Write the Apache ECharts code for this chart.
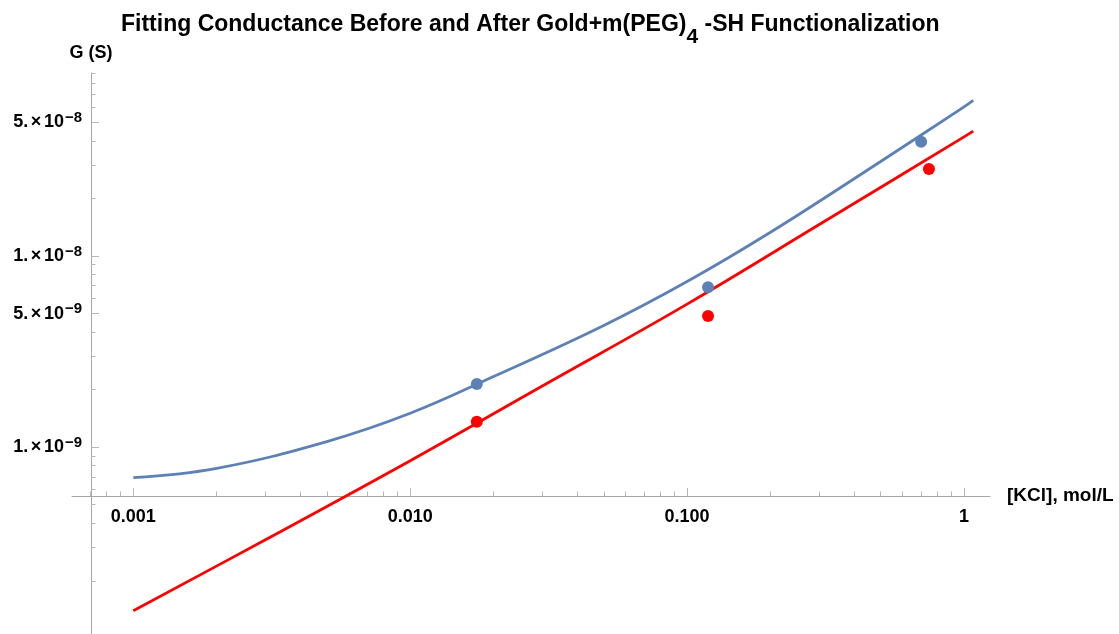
<!DOCTYPE html>
<html>
<head>
<meta charset="utf-8">
<script src="https://cdn.jsdelivr.net/npm/echarts@6/dist/echarts.min.js"></script>
<style>
  html, body { margin: 0; padding: 0; background: #ffffff; }
  #chart { width: 1119px; height: 634px; }
</style>
</head>
<body>
<div id="chart"></div>
<script>
// Measured conductance, before functionalization
const measuredKClBefore = [0.0174, 0.119, 0.70];
const measuredGBefore   = [2.14e-9, 6.86e-9, 3.96e-8];

// Measured conductance, after Gold+m(PEG)4-SH functionalization
const measuredKClAfter = [0.0174, 0.119, 0.747];
const measuredGAfter   = [1.36e-9, 4.86e-9, 2.85e-8];

// Fitted curve, before functionalization
const fitKClBefore = [0.001, 0.002, 0.005, 0.01, 0.02, 0.05, 0.1, 0.2, 0.5, 1, 1.08];
const fitGBefore   = [6.93e-10, 7.75e-10, 1.07e-9, 1.504e-9, 2.34e-9, 4.33e-9, 7.35e-9, 1.33e-8, 3.12e-8, 6.03e-8, 6.52e-8];

// Fitted curve, after functionalization
const fitKClAfter = [0.001, 0.003, 0.01, 0.03, 0.1, 0.3, 1, 1.08];
const fitGAfter   = [1.396e-10, 3.28e-10, 8.5e-10, 2.09e-9, 5.6e-9, 1.46e-8, 4.2e-8, 4.5e-8];

// Axis ticks
const xMajorTicks = [0.001, 0.01, 0.1, 1];
const xMinorTicks = [0.0007, 0.0008, 0.0009,
  0.002, 0.003, 0.004, 0.005, 0.006, 0.007, 0.008, 0.009,
  0.02, 0.03, 0.04, 0.05, 0.06, 0.07, 0.08, 0.09,
  0.2, 0.3, 0.4, 0.5, 0.6, 0.7, 0.8, 0.9];
const yMajorTicks = [1e-9, 5e-9, 1e-8, 5e-8];
const yMinorTicks = [2e-10, 3e-10, 4e-10, 5e-10, 6e-10, 7e-10, 8e-10, 9e-10,
  2e-9, 3e-9, 4e-9, 6e-9, 7e-9, 8e-9, 9e-9,
  2e-8, 3e-8, 4e-8, 6e-8, 7e-8, 8e-8, 9e-8];

// Plot ranges
const xRange = [6.006e-4, 1.2412];
const yRange = [1.054e-10, 9.06e-8];

const FONT = "'Liberation Sans', Arial, sans-serif";
const BLUE = '#5E81B5';
const RED = '#FF0000';
const AXIS_COLOR = '#a6a6a6';
const TICK_COLOR = '#b8b8b8';

const zip = (xs, ys) => xs.map((x, i) => [x, ys[i]]);

function xLabel(v) {
  return v >= 0.999 ? '1' : v.toFixed(3);
}
function yLabel(v) {
  const e = Math.floor(Math.log10(v) + 1e-9);
  const m = Math.round(v / Math.pow(10, e));
  return '{b|' + m + '.}{x|×}{b|10}{s|−' + Math.abs(e) + '}';
}

const plotRect = { left: 72, top: 73, width: 918, height: 561 };
const yAxisRect = { left: 91, top: 73, width: 899, height: 561 };
const xAxisRect = { left: 72, top: 73, width: 918, height: 423 };

const hiddenValueAxis = (gridIndex) => ({
  type: 'value', gridIndex, min: 0, max: 1, show: false
});

const chart = echarts.init(document.getElementById('chart'), null, { renderer: 'canvas' });

chart.setOption({
  animation: false,
  backgroundColor: '#ffffff',
  title: {
    text: 'Fitting Conductance Before and After Gold+m(PEG){sub|4} -SH Functionalization',
    left: 121,
    top: 1,
    padding: 0,
    textStyle: {
      fontFamily: FONT,
      fontSize: 23,
      fontWeight: 'bold',
      color: '#000000',
      rich: {
        sub: { fontFamily: FONT, fontSize: 21, fontWeight: 'bold', color: '#000000', padding: [26, 0, 0, 0] }
      }
    }
  },
  grid: [
    Object.assign({}, plotRect),   // 0: data
    Object.assign({}, yAxisRect),  // 1: y major ticks + labels
    Object.assign({}, yAxisRect),  // 2: y minor ticks
    Object.assign({}, xAxisRect),  // 3: x major ticks + labels
    Object.assign({}, xAxisRect)   // 4: x minor ticks
  ],
  xAxis: [
    { type: 'log', gridIndex: 0, min: xRange[0], max: xRange[1], show: false },
    hiddenValueAxis(1),
    hiddenValueAxis(2),
    {
      type: 'log', gridIndex: 3, min: xRange[0], max: xRange[1], position: 'bottom',
      name: '[KCl], mol/L', nameLocation: 'end', nameGap: 17,
      nameTextStyle: { fontFamily: FONT, fontSize: 19, fontWeight: 'bold', color: '#000000', align: 'left', verticalAlign: 'middle' },
      axisLine: { show: true, onZero: false, lineStyle: { color: AXIS_COLOR, width: 1 } },
      axisTick: { show: true, inside: true, length: 8, customValues: xMajorTicks, lineStyle: { color: TICK_COLOR, width: 1 } },
      axisLabel: { show: true, margin: 12, customValues: xMajorTicks, formatter: xLabel,
        fontFamily: FONT, fontSize: 18, fontWeight: 'bold', color: '#000000' },
      splitLine: { show: false }
    },
    {
      type: 'log', gridIndex: 4, min: xRange[0], max: xRange[1], position: 'bottom',
      axisLine: { show: false, onZero: false },
      axisTick: { show: true, inside: true, length: 4.5, customValues: xMinorTicks, lineStyle: { color: TICK_COLOR, width: 1 } },
      axisLabel: { show: false },
      splitLine: { show: false }
    }
  ],
  yAxis: [
    { type: 'log', gridIndex: 0, min: yRange[0], max: yRange[1], show: false },
    {
      type: 'log', gridIndex: 1, min: yRange[0], max: yRange[1], position: 'left',
      name: 'G (S)', nameLocation: 'end', nameGap: 11,
      nameTextStyle: { fontFamily: FONT, fontSize: 18, fontWeight: 'bold', color: '#000000', align: 'center' },
      axisLine: { show: true, onZero: false, lineStyle: { color: AXIS_COLOR, width: 1 } },
      axisTick: { show: true, inside: true, length: 8, customValues: yMajorTicks, lineStyle: { color: TICK_COLOR, width: 1 } },
      axisLabel: {
        show: true, margin: 9, customValues: yMajorTicks, formatter: yLabel,
        rich: {
          b: { fontFamily: FONT, fontSize: 18, fontWeight: 'bold', color: '#000000' },
          x: { fontFamily: FONT, fontSize: 18, fontWeight: 'bold', color: '#000000', padding: [0, 2.5, 0, 2.5] },
          s: { fontFamily: FONT, fontSize: 15, fontWeight: 'bold', color: '#000000', padding: [0, 0, 9, 1] }
        }
      },
      splitLine: { show: false }
    },
    {
      type: 'log', gridIndex: 2, min: yRange[0], max: yRange[1], position: 'left',
      axisLine: { show: false, onZero: false },
      axisTick: { show: true, inside: true, length: 4.5, customValues: yMinorTicks, lineStyle: { color: TICK_COLOR, width: 1 } },
      axisLabel: { show: false },
      splitLine: { show: false }
    },
    hiddenValueAxis(3),
    hiddenValueAxis(4)
  ],
  series: [
    {
      name: 'Fit before', type: 'line', xAxisIndex: 0, yAxisIndex: 0,
      data: zip(fitKClBefore, fitGBefore), showSymbol: false, smooth: 0.4,
      lineStyle: { color: BLUE, width: 2.8 }, itemStyle: { color: BLUE }, z: 3
    },
    {
      name: 'Fit after', type: 'line', xAxisIndex: 0, yAxisIndex: 0,
      data: zip(fitKClAfter, fitGAfter), showSymbol: false, smooth: 0.4,
      lineStyle: { color: RED, width: 2.8 }, itemStyle: { color: RED }, z: 3
    },
    {
      name: 'Measured before', type: 'scatter', xAxisIndex: 0, yAxisIndex: 0,
      data: zip(measuredKClBefore, measuredGBefore), symbolSize: 12,
      itemStyle: { color: BLUE, opacity: 1 }, z: 4
    },
    {
      name: 'Measured after', type: 'scatter', xAxisIndex: 0, yAxisIndex: 0,
      data: zip(measuredKClAfter, measuredGAfter), symbolSize: 12,
      itemStyle: { color: RED, opacity: 1 }, z: 4
    }
  ]
});
</script>
</body>
</html>
